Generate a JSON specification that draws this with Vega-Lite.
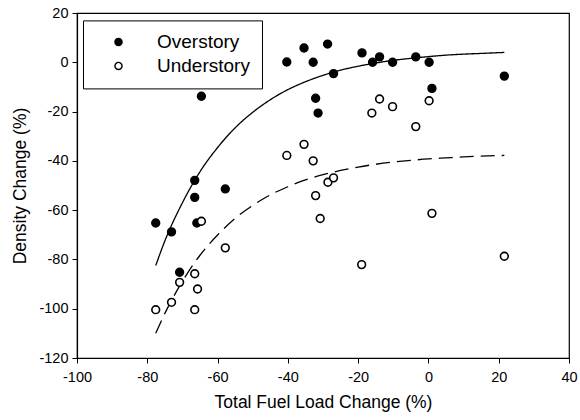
{
  "$schema": "https://vega.github.io/schema/vega-lite/v6.json",
  "width": 492,
  "height": 345,
  "autosize": "none",
  "padding": {"left": 77, "top": 13, "right": 11, "bottom": 62},
  "background": "white",
  "config": {
    "font": "Liberation Sans",
    "view": {"stroke": "black", "strokeWidth": 1.2},
    "axis": {
      "grid": false, "domainColor": "black", "tickColor": "black", "labelColor": "black",
      "titleColor": "black", "labelFont": "Liberation Sans", "titleFont": "Liberation Sans",
      "labelFontSize": 14.5, "titleFontSize": 17.5, "titleFontWeight": "normal", "tickSize": 5, "domainWidth": 1.2,
      "labelExpr": "toString(datum.value)", "labelFlush": false, "labelOverlap": false
    }
  },
  "datasets": {
    "pts": [
      {"x": -64.6, "y": -13.8, "g": "Overstory"},
      {"x": -40.3, "y": 0.1, "g": "Overstory"},
      {"x": -35.4, "y": 5.8, "g": "Overstory"},
      {"x": -32.8, "y": 0, "g": "Overstory"},
      {"x": -32.1, "y": -14.6, "g": "Overstory"},
      {"x": -31.4, "y": -20.6, "g": "Overstory"},
      {"x": -66.5, "y": -47.9, "g": "Overstory"},
      {"x": -57.8, "y": -51.4, "g": "Overstory"},
      {"x": -28.7, "y": 7.4, "g": "Overstory"},
      {"x": -27.0, "y": -4.6, "g": "Overstory"},
      {"x": -18.9, "y": 3.8, "g": "Overstory"},
      {"x": -15.9, "y": 0, "g": "Overstory"},
      {"x": -13.9, "y": 2.2, "g": "Overstory"},
      {"x": -10.2, "y": 0, "g": "Overstory"},
      {"x": -3.6, "y": 2.2, "g": "Overstory"},
      {"x": 0.2, "y": 0, "g": "Overstory"},
      {"x": 1.0, "y": -10.6, "g": "Overstory"},
      {"x": 21.6, "y": -5.6, "g": "Overstory"},
      {"x": -66.5, "y": -54.8, "g": "Overstory"},
      {"x": -77.6, "y": -65.2, "g": "Overstory"},
      {"x": -73.1, "y": -68.8, "g": "Overstory"},
      {"x": -65.9, "y": -65.2, "g": "Overstory"},
      {"x": -70.8, "y": -85.2, "g": "Overstory"},
      {"x": -35.4, "y": -33.3, "g": "Understory"},
      {"x": -40.3, "y": -37.8, "g": "Understory"},
      {"x": -32.8, "y": -40.0, "g": "Understory"},
      {"x": -28.6, "y": -48.7, "g": "Understory"},
      {"x": -27.0, "y": -46.9, "g": "Understory"},
      {"x": -32.1, "y": -54.1, "g": "Understory"},
      {"x": -13.9, "y": -14.9, "g": "Understory"},
      {"x": -16.1, "y": -20.6, "g": "Understory"},
      {"x": -10.2, "y": -18.0, "g": "Understory"},
      {"x": -3.6, "y": -26.1, "g": "Understory"},
      {"x": 0.2, "y": -15.6, "g": "Understory"},
      {"x": -30.8, "y": -63.4, "g": "Understory"},
      {"x": 1.0, "y": -61.3, "g": "Understory"},
      {"x": -19.0, "y": -82.1, "g": "Understory"},
      {"x": 21.6, "y": -78.7, "g": "Understory"},
      {"x": -64.6, "y": -64.5, "g": "Understory"},
      {"x": -57.8, "y": -75.3, "g": "Understory"},
      {"x": -66.5, "y": -85.8, "g": "Understory"},
      {"x": -70.8, "y": -89.3, "g": "Understory"},
      {"x": -65.7, "y": -92.0, "g": "Understory"},
      {"x": -73.1, "y": -97.4, "g": "Understory"},
      {"x": -77.6, "y": -100.4, "g": "Understory"},
      {"x": -66.5, "y": -100.4, "g": "Understory"}
    ],
    "fit": [
      {"x": -77.6, "y": -82.5, "c": "over"},
      {"x": -75, "y": -72.5, "c": "over"},
      {"x": -70, "y": -57, "c": "over"},
      {"x": -65, "y": -44.4, "c": "over"},
      {"x": -60, "y": -34.6, "c": "over"},
      {"x": -55, "y": -26.6, "c": "over"},
      {"x": -50, "y": -20.3, "c": "over"},
      {"x": -45, "y": -15.2, "c": "over"},
      {"x": -40, "y": -11.1, "c": "over"},
      {"x": -35, "y": -7.9, "c": "over"},
      {"x": -30, "y": -5.3, "c": "over"},
      {"x": -25, "y": -3.2, "c": "over"},
      {"x": -20, "y": -1.6, "c": "over"},
      {"x": -15, "y": -0.3, "c": "over"},
      {"x": -10, "y": 0.8, "c": "over"},
      {"x": -5, "y": 1.6, "c": "over"},
      {"x": 0, "y": 2.3, "c": "over"},
      {"x": 5, "y": 2.9, "c": "over"},
      {"x": 10, "y": 3.3, "c": "over"},
      {"x": 15, "y": 3.6, "c": "over"},
      {"x": 21.6, "y": 4.0, "c": "over"},
      {"x": -77.6, "y": -110, "c": "under"},
      {"x": -75, "y": -101.9, "c": "under"},
      {"x": -70, "y": -88.9, "c": "under"},
      {"x": -65, "y": -78.3, "c": "under"},
      {"x": -60, "y": -70.1, "c": "under"},
      {"x": -55, "y": -63.3, "c": "under"},
      {"x": -50, "y": -58.1, "c": "under"},
      {"x": -45, "y": -53.8, "c": "under"},
      {"x": -40, "y": -50.5, "c": "under"},
      {"x": -35, "y": -47.7, "c": "under"},
      {"x": -30, "y": -45.6, "c": "under"},
      {"x": -25, "y": -43.9, "c": "under"},
      {"x": -20, "y": -42.5, "c": "under"},
      {"x": -15, "y": -41.4, "c": "under"},
      {"x": -10, "y": -40.5, "c": "under"},
      {"x": -5, "y": -39.8, "c": "under"},
      {"x": 0, "y": -39.2, "c": "under"},
      {"x": 5, "y": -38.8, "c": "under"},
      {"x": 10, "y": -38.4, "c": "under"},
      {"x": 15, "y": -38.1, "c": "under"},
      {"x": 21.6, "y": -37.8, "c": "under"}
    ]
  },
  "layer": [
    {
      "data": {"name": "fit"},
      "mark": {"type": "line", "color": "black", "strokeWidth": 1.3, "interpolate": "monotone"},
      "encoding": {
        "x": {"field": "x", "type": "quantitative", "scale": {"domain": [-100, 40], "nice": false}, "axis": {"values": [-100, -80, -60, -40, -20, 0, 20, 40], "title": "Total Fuel Load Change (%)", "titlePadding": 10, "labelPadding": 7}},
        "y": {"field": "y", "type": "quantitative", "scale": {"domain": [-120, 20], "nice": false}, "axis": {"values": [-120, -100, -80, -60, -40, -20, 0, 20], "title": "Density Change (%)", "titlePadding": 9, "labelPadding": 4}},
        "detail": {"field": "c"},
        "strokeDash": {"field": "c", "type": "nominal", "scale": {"domain": ["over", "under"], "range": [[1, 0], [14, 7]]}, "legend": null}
      }
    },
    {
      "data": {"name": "pts"},
      "mark": {"type": "point", "shape": "circle", "stroke": "black", "strokeWidth": 1.6, "size": 60, "opacity": 1},
      "encoding": {
        "x": {"field": "x", "type": "quantitative"},
        "y": {"field": "y", "type": "quantitative"},
        "fill": {"field": "g", "type": "nominal", "title": null, "scale": {"domain": ["Overstory", "Understory"], "range": ["black", "white"]},
          "legend": {"orient": "none", "legendX": 6, "legendY": 7.4, "fillColor": "white", "strokeColor": "black", "padding": 12,
            "labelFontSize": 19, "labelFont": "Liberation Sans", "labelColor": "black", "symbolStrokeColor": "black", "symbolStrokeWidth": 1.4,
            "symbolSize": 50, "symbolType": "circle", "symbolOffset": 14, "labelOffset": 29, "rowPadding": 4, "symbolOpacity": 1}}
      }
    }
  ]
}
